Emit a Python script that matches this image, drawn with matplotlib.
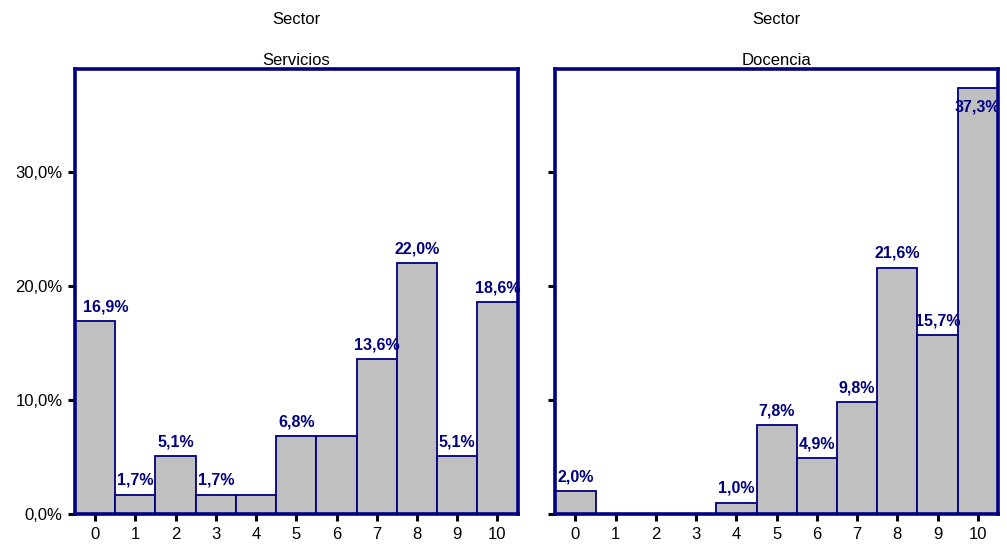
import matplotlib
matplotlib.use("Agg")
import matplotlib.pyplot as plt
import numpy as np

plt.rcParams['font.family'] = ['Liberation Sans', 'DejaVu Sans']

# data
categories = list(range(11))
servicios = [16.9, 1.7, 5.1, 1.7, 1.7, 6.8, 6.8, 13.6, 22.0, 5.1, 18.6]
docencia = [2.0, 0.0, 0.0, 0.0, 1.0, 7.8, 4.9, 9.8, 21.6, 15.7, 37.3]
# which bars carry a visible value label (SPSS hides overlapping ones)
servicios_labels = [True, True, True, True, False, True, False, True, True, True, True]
docencia_labels = [v > 0 for v in docencia]
panel_titles = ["Servicios", "Docencia"]
y_ticks = [0, 10, 20, 30]

NAVY = "#000080"
GREY = "#C0C0C0"
YMAX = 39.0


def fmt(v):
    return f"{v:.1f}".replace(".", ",") + "%"


def draw_panel(ax, values, show, title, show_ylabels):
    ax.bar(categories, values, width=1.0, color=GREY, edgecolor=NAVY, linewidth=1.3)
    ax.set_xlim(-0.5, 10.5)
    ax.set_ylim(0, YMAX)
    ax.set_xticks(categories)
    ax.set_yticks(y_ticks)
    if show_ylabels:
        ax.set_yticklabels([fmt(t) for t in y_ticks])
    else:
        ax.set_yticklabels([])
    ax.tick_params(axis='both', length=5, width=2.2, color='black',
                   labelsize=12, pad=4)
    for s in ax.spines.values():
        s.set_color(NAVY)
        s.set_linewidth(2.6)
    labels = []
    for x, v, ok in zip(categories, values, show):
        if not ok:
            continue
        if v > YMAX - 3:
            t = ax.text(x, v - 1.0, fmt(v), ha='center', va='top', color=NAVY,
                        fontsize=11.5, fontweight='bold')
        else:
            t = ax.text(x, v + 0.6, fmt(v), ha='center', va='bottom', color=NAVY,
                        fontsize=11.5, fontweight='bold')
        labels.append(t)
    ax.set_title(title, fontsize=12, pad=3)
    return labels


fig = plt.figure(figsize=(10.07, 5.44), dpi=100)
ax1 = fig.add_axes([0.0745, 0.055, 0.4395, 0.818])
ax2 = fig.add_axes([0.5515, 0.055, 0.4395, 0.818])

lab1 = draw_panel(ax1, servicios, servicios_labels, panel_titles[0], True)
lab2 = draw_panel(ax2, docencia, docencia_labels, panel_titles[1], False)

for ax in (ax1, ax2):
    pos = ax.get_position()
    fig.text((pos.x0 + pos.x1) / 2, 1 - 20 / 544, "Sector", ha='center',
             va='center', fontsize=12)

# keep value labels from spilling past the left frame
fig.canvas.draw()
renderer = fig.canvas.get_renderer()
for ax, labs in ((ax1, lab1), (ax2, lab2)):
    left_px = ax.get_window_extent(renderer).x0
    for t in labs:
        bb = t.get_window_extent(renderer)
        if bb.x0 < left_px:
            t.set_horizontalalignment('left')
            x_px = left_px + 8
            x_data = ax.transData.inverted().transform((x_px, 0))[0]
            t.set_x(x_data)

fig.savefig("out.png", dpi=100)
